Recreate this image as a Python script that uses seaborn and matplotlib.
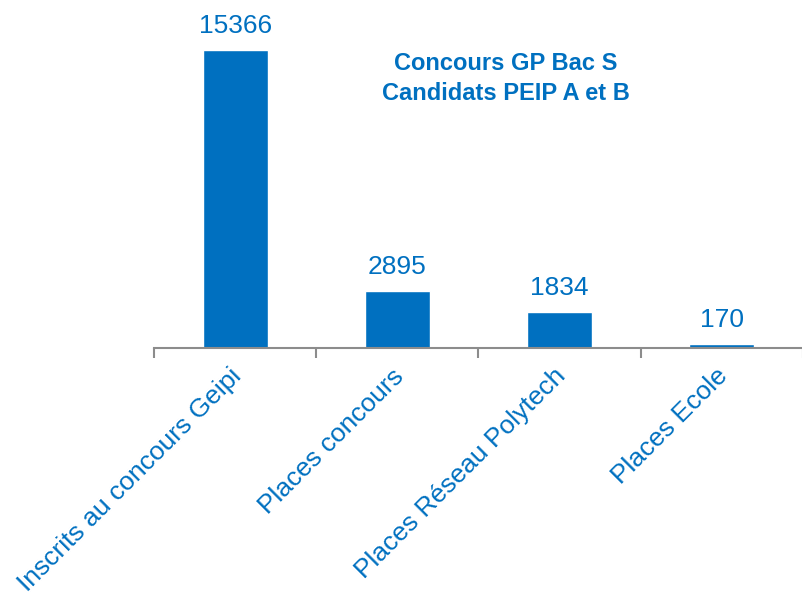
import matplotlib
matplotlib.use("Agg")
import matplotlib.pyplot as plt
import matplotlib.transforms as mtransforms
import seaborn as sns
import pandas as pd
import numpy as np

categories = ["Inscrits au concours Geipi", "Places concours", "Places Réseau Polytech", "Places Ecole"]
values = [15366, 2895, 1834, 170]
title_lines = ["Concours GP Bac S", "Candidats PEIP A et B"]

blue = "#0070C0"
grey = "#8C8C8C"

sns.set_theme(style="white")
plt.rcParams['font.family'] = ['Liberation Sans', 'DejaVu Sans']

df = pd.DataFrame({"cat": categories, "val": values})

fig = plt.figure(figsize=(8.03, 5.95), dpi=100)
W, H = 803, 595
axis_y = 347.5
ax = fig.add_axes([154 / W, (H - axis_y) / H, 649 / W, axis_y / H])
sns.barplot(data=df, x="cat", y="val", color=blue, width=0.4, ax=ax, saturation=1)

ax.set_xlim(-0.5, 3.45)
ax.set_ylim(0, 15366 * axis_y / 297.5)

for i, v in enumerate(values):
    ax.text(i, v + 15366 * 12 / 297.5, str(v), ha="center", va="bottom",
            color=blue, fontsize=19, clip_on=False)

for s in ["top", "right", "left"]:
    ax.spines[s].set_visible(False)
ax.spines["bottom"].set_color(grey)
ax.spines["bottom"].set_linewidth(1.5)
ax.set_yticks([])
ax.set_xlabel("")
ax.set_ylabel("")

ax.set_xticks(range(len(categories)))
ax.set_xticklabels(categories, rotation=45, ha="right", rotation_mode="anchor",
                   color=blue, fontsize=19)
ax.tick_params(axis="x", which="major", length=0, pad=9)
offset = mtransforms.ScaledTranslation(-6 / 100, -4 / 100, fig.dpi_scale_trans)
for lbl in ax.get_xticklabels():
    lbl.set_transform(lbl.get_transform() + offset)
ax.set_xticks(np.arange(-0.5, 4, 1.0), minor=True)
ax.tick_params(axis="x", which="minor", length=7, width=1.5, color=grey, bottom=True, direction="out")

fig.text(506 / W, 1 - 63 / H, title_lines[0], ha="center", va="center",
         color=blue, fontsize=17, fontweight="bold")
fig.text(506 / W, 1 - 93 / H, title_lines[1], ha="center", va="center",
         color=blue, fontsize=17, fontweight="bold")

fig.savefig("out.png", dpi=100)
